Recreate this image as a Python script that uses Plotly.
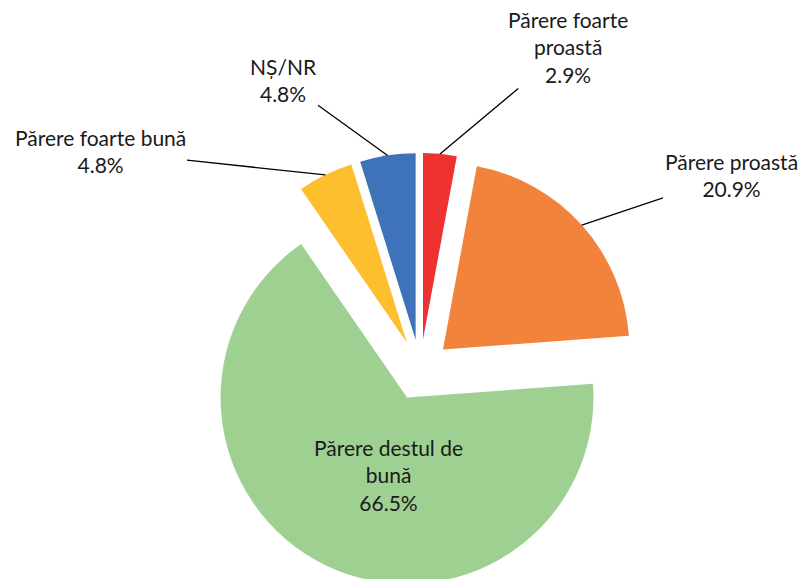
import math
import plotly.graph_objects as go

# ---- data ----
labels = ["Părere foarte proastă", "Părere proastă", "Părere destul de bună",
          "Părere foarte bună", "NȘ/NR"]
label_lines = [["Părere foarte", "proastă"], ["Părere proastă"],
               ["Părere destul de", "bună"], ["Părere foarte bună"], ["NȘ/NR"]]
values = [2.9, 20.9, 66.5, 4.8, 4.8]
colors = ["#EE3131", "#F2833D", "#9ED091", "#FDBF2D", "#3E72B9"]

# ---- layout constants ----
W, H = 807, 579
PAGE_OFF = 8            # default body margin of the html page
PULL = 0.164
DOM_X = [0.0216, 1.0]
DOM_Y = [0.0, 0.7496]
# label centre positions (page pixels) and whether a leader line is drawn
label_pos = [(568, 47), (731, 175), (388, 475), (100, 151), (283, 80)]
leader = [True, True, False, True, True]
FONT = dict(family="Lato, 'Noto Sans', sans-serif", size=21, color="#1a1a1a")

fig = go.Figure(go.Pie(
    labels=labels,
    values=values,
    marker=dict(colors=colors, line=dict(width=0)),
    pull=[PULL] * len(values),
    sort=False,
    direction="clockwise",
    rotation=0,
    textinfo="none",
    hoverinfo="label+percent",
    domain=dict(x=DOM_X, y=DOM_Y),
    showlegend=False,
))

# geometry of the pie as plotly computes it (used to anchor leader lines)
cx = W * (DOM_X[0] + DOM_X[1]) / 2
box_h = H * (DOM_Y[1] - DOM_Y[0])
box_w = W * (DOM_X[1] - DOM_X[0])
cy = H * (1 - DOM_Y[0]) - box_h / 2
r = min(box_w, box_h) / 2 / (1 + PULL)

total = sum(values)
cum = 0.0
annotations = []
for i, v in enumerate(values):
    mid = (cum + v / 2) / total
    cum += v
    th = 2 * math.pi * mid
    dx, dy = math.sin(th), -math.cos(th)
    tip_x = cx + r * (1 + PULL) * dx
    tip_y = cy + r * (1 + PULL) * dy
    text = "<br>".join(label_lines[i] + [f"{v:.1f}%"])
    lx, ly = label_pos[i][0] - PAGE_OFF, label_pos[i][1] - PAGE_OFF
    if leader[i]:
        annotations.append(dict(
            x=tip_x / W, y=1 - tip_y / H, xref="paper", yref="paper",
            ax=lx - tip_x, ay=ly - tip_y, axref="pixel", ayref="pixel",
            text=text, showarrow=True, arrowhead=0, arrowwidth=1.3,
            arrowcolor="#000000", standoff=0, startstandoff=0,
            font=FONT, align="center", xanchor="center", yanchor="middle",
        ))
    else:
        annotations.append(dict(
            x=lx / W, y=1 - ly / H, xref="paper", yref="paper",
            text=text, showarrow=False, font=FONT, align="center",
            xanchor="center", yanchor="middle",
        ))

fig.update_layout(
    width=W, height=H,
    margin=dict(l=0, r=0, t=0, b=0),
    paper_bgcolor="white", plot_bgcolor="white",
    annotations=annotations,
    showlegend=False,
)

fig.write_html("out.html")
